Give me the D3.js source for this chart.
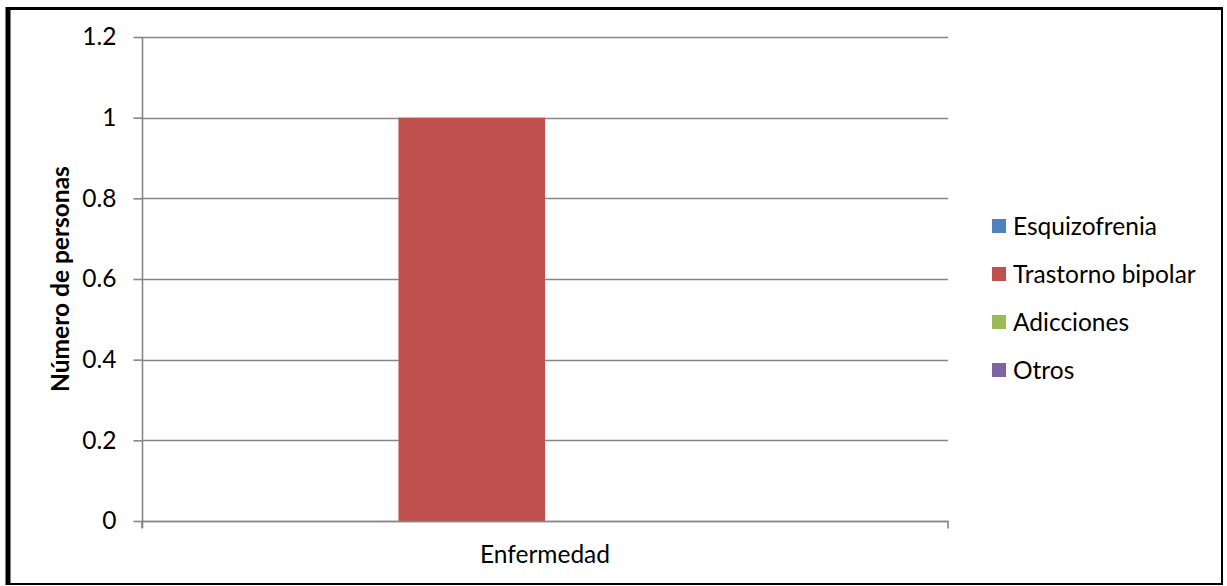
<!DOCTYPE html>
<html>
<head>
<meta charset="utf-8">
<script src="https://cdn.jsdelivr.net/npm/d3@7"></script>
<style>
  html, body { margin: 0; padding: 0; background: #fff; }
  svg { display: block; }
  text { font-family: Lato, "Open Sans", sans-serif; fill: #000; }
</style>
</head>
<body>
<svg id="chart" width="1227" height="586"></svg>
<script>
// Data
const categories = ["Enfermedad"];
const seriesNames = ["Esquizofrenia", "Trastorno bipolar", "Adicciones", "Otros"];
const seriesValues = [0, 1, 0, 0];
const seriesColors = ["#4F81BD", "#C0504D", "#9BBB59", "#8064A2"];
const yTicks = [0, 0.2, 0.4, 0.6, 0.8, 1, 1.2];
const yTitle = "Número de personas";

const svg = d3.select("#chart");
const W = 1227, H = 586;
const plot = { left: 142, right: 948, top: 37, bottom: 521 };
const gridColor = "#868686";
const fontSize = 24.5;

// Outer frame: heavier on top/left
svg.append("rect").attr("x", 0).attr("y", 0).attr("width", W).attr("height", H).attr("fill", "#fff");
svg.append("line").attr("x1", 8).attr("x2", 8).attr("y1", 7).attr("y2", 585)
  .attr("stroke", "#000").attr("stroke-width", 5);
svg.append("line").attr("x1", 6).attr("x2", 1223).attr("y1", 8.5).attr("y2", 8.5)
  .attr("stroke", "#000").attr("stroke-width", 3);
svg.append("line").attr("x1", 1222).attr("x2", 1222).attr("y1", 7).attr("y2", 585)
  .attr("stroke", "#000").attr("stroke-width", 2);
svg.append("line").attr("x1", 6).attr("x2", 1223).attr("y1", 584).attr("y2", 584)
  .attr("stroke", "#000").attr("stroke-width", 2);

// Scales
const x0 = d3.scaleBand().domain(categories).range([plot.left, plot.right]).paddingInner(0).paddingOuter(0);
const x1 = d3.scaleBand().domain(seriesNames).range([0, x0.bandwidth()]).paddingInner(0).paddingOuter(0.75);
const y = d3.scaleLinear().domain([0, 1.2]).range([plot.bottom, plot.top]);

// Gridlines
svg.append("g").selectAll("line").data(yTicks).join("line")
  .attr("x1", plot.left).attr("x2", plot.right)
  .attr("y1", d => Math.round(y(d)) + 0.5).attr("y2", d => Math.round(y(d)) + 0.5)
  .attr("stroke", gridColor).attr("stroke-width", 1.6);

// Bars
const groups = svg.append("g").selectAll("g").data(categories).join("g")
  .attr("transform", c => `translate(${x0(c)},0)`);
groups.selectAll("rect").data(seriesNames.map((s, i) => ({ s, v: seriesValues[i], c: seriesColors[i] })))
  .join("rect")
  .attr("x", d => x1(d.s)).attr("width", x1.bandwidth())
  .attr("y", d => y(d.v)).attr("height", d => y(0) - y(d.v))
  .attr("fill", d => d.c);

// Y axis
const yAxis = d3.axisLeft(y).tickValues(yTicks).tickFormat(d3.format("~g")).tickSize(9).tickPadding(17);
const gy = svg.append("g").attr("transform", `translate(${plot.left + 0.5},0)`).call(yAxis);
gy.select(".domain").attr("stroke", gridColor).attr("stroke-width", 1.6).attr("d", `M0,${plot.top}V${plot.bottom + 7}`);
gy.selectAll(".tick line").attr("stroke", gridColor).attr("stroke-width", 1.6);
gy.selectAll(".tick text").attr("font-size", fontSize).attr("font-family", "Lato, sans-serif").attr("fill", "#000");

// X axis
const xAxis = d3.axisBottom(x0).tickSize(0).tickPadding(24);
const gx = svg.append("g").attr("transform", `translate(0,${plot.bottom + 0.5})`).call(xAxis);
gx.select(".domain").attr("stroke", gridColor).attr("stroke-width", 1.6)
  .attr("d", `M${plot.left},7V0H${plot.right}V7`);
gx.selectAll(".tick text").attr("font-size", fontSize).attr("font-family", "Lato, sans-serif").attr("fill", "#000");

// Y title
svg.append("text")
  .attr("transform", `translate(69,${(plot.top + plot.bottom) / 2}) rotate(-90)`)
  .attr("text-anchor", "middle").attr("font-size", fontSize).attr("font-weight", "bold")
  .text(yTitle);

// Legend
const legend = svg.append("g").attr("transform", "translate(992,226)");
const items = legend.selectAll("g").data(seriesNames).join("g")
  .attr("transform", (d, i) => `translate(0,${i * 48})`);
items.append("rect").attr("x", 0).attr("y", -7).attr("width", 14).attr("height", 14)
  .attr("fill", (d, i) => seriesColors[i]);
items.append("text").attr("x", 21).attr("y", 0).attr("dy", "0.35em")
  .attr("font-size", fontSize).text(d => d);
</script>
</body>
</html>
